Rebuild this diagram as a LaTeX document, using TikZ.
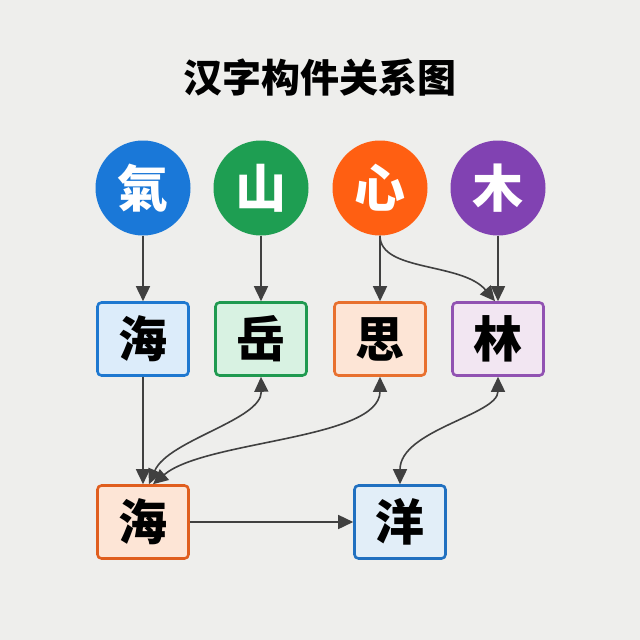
\documentclass[tikz,border=0pt]{standalone}
\usepackage{fontspec}
\newfontfamily\cjk{Noto Sans CJK SC}[BoldFont={* Black}]
\usetikzlibrary{arrows.meta}
\definecolor{bg}{HTML}{EEEEEC}
\definecolor{cblue}{HTML}{1A78D8}
\definecolor{cgreen}{HTML}{1E9E52}
\definecolor{corange}{HTML}{FF5F12}
\definecolor{cpurple}{HTML}{8142B2}
\definecolor{fblue}{HTML}{DCECFA}
\definecolor{bblue}{HTML}{1E78D0}
\definecolor{fgreen}{HTML}{D8F2E2}
\definecolor{bgreen}{HTML}{1F9A50}
\definecolor{forange}{HTML}{FDE5D6}
\definecolor{borange}{HTML}{E8702E}
\definecolor{fpurple}{HTML}{F2E6F2}
\definecolor{bpurple}{HTML}{9152B2}
\definecolor{borange2}{HTML}{E05E1E}
\definecolor{fblue2}{HTML}{E2EEF8}
\definecolor{bblue2}{HTML}{2070C0}
\definecolor{arr}{HTML}{404040}
\tikzset{
  circ/.style={circle,minimum size=95pt,inner sep=0pt,text=white,font=\cjk\bfseries\fontsize{51}{51}\selectfont},
  cbox/.style={rounded corners=4pt,line width=2.6pt,minimum width=91pt,minimum height=73pt,inner sep=0pt,font=\cjk\bfseries\fontsize{49}{49}\selectfont},
  tip/.style={},
  link/.style={draw=arr,line width=1.6pt,-{Triangle[length=15pt,width=14pt]}},
  dlink/.style={draw=arr,line width=1.6pt,{Triangle[length=15pt,width=14pt]}-{Triangle[length=15pt,width=14pt]}}
}
\begin{document}
\begin{tikzpicture}[x=1pt,y=-1pt]
\fill[bg] (0,0) rectangle (640,640);
\useasboundingbox (0,0) rectangle (640,640);
\node[font=\cjk\bfseries\fontsize{39}{39}\selectfont] (title) at (320,78) {汉字构件关系图};
\node[circ,fill=cblue] (qi) at (143,188) {氣};
\node[circ,fill=cgreen] (shan) at (261,188) {山};
\node[circ,fill=corange] (xin) at (380,188) {心};
\node[circ,fill=cpurple] (mu) at (498,188) {木};
\node[cbox,fill=fblue,draw=bblue] (hai) at (143,339) {海};
\node[cbox,fill=fgreen,draw=bgreen] (yue) at (261,339) {岳};
\node[cbox,fill=forange,draw=borange] (si) at (380,339) {思};
\node[cbox,fill=fpurple,draw=bpurple] (lin) at (498,339) {林};
\node[cbox,fill=forange,draw=borange2] (hai2) at (143,522) {海};
\node[cbox,fill=fblue2,draw=bblue2] (yang) at (400,522) {洋};
\draw[link] (qi) -- (hai);
\draw[link] (shan) -- (yue);
\draw[link] (xin) -- (si);
\draw[link] (mu) -- (lin);
\draw[link] (xin.south) .. controls (380,272) and (462,262) .. ([xshift=-3pt]lin.north);
\draw[link] (hai) -- (hai2);
\draw[dlink] ([xshift=6pt]hai2.north) .. controls (168,440) and (262,420) .. (yue.south);
\draw[dlink] ([xshift=10pt]hai2.north) .. controls (205,440) and (380,440) .. (si.south);
\draw[dlink] (lin.south) .. controls (498,415) and (400,430) .. (yang.north);
\draw[link] (hai2) -- (yang);
\end{tikzpicture}
\end{document}
